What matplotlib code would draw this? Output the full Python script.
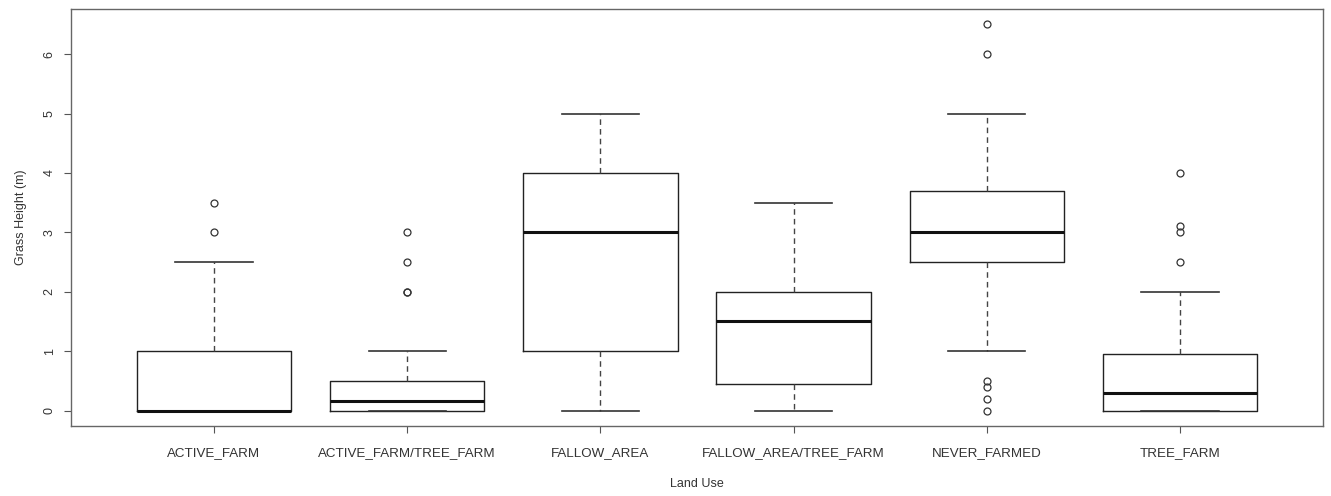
import matplotlib.pyplot as plt

plt.rcParams["font.family"] = ["Liberation Sans", "DejaVu Sans"]

# Land use categories
land_use = [
    "ACTIVE_FARM",
    "ACTIVE_FARM/TREE_FARM",
    "FALLOW_AREA",
    "FALLOW_AREA/TREE_FARM",
    "NEVER_FARMED",
    "TREE_FARM",
]

# Box statistics (metres)
whisker_low = [0.0, 0.0, 0.0, 0.0, 1.0, 0.0]
q1 = [0.0, 0.0, 1.0, 0.45, 2.5, 0.0]
median = [0.0, 0.17, 3.0, 1.5, 3.0, 0.3]
q3 = [1.0, 0.5, 4.0, 2.0, 3.7, 0.95]
whisker_high = [2.5, 1.0, 5.0, 3.5, 5.0, 2.0]
outliers = [
    [3.0, 3.5],
    [2.0, 2.0, 2.5, 3.0],
    [],
    [],
    [0.0, 0.2, 0.4, 0.5, 6.0, 6.5],
    [2.5, 3.0, 3.1, 4.0],
]

stats = []
for i, name in enumerate(land_use):
    stats.append(
        {
            "label": name,
            "whislo": whisker_low[i],
            "q1": q1[i],
            "med": median[i],
            "q3": q3[i],
            "whishi": whisker_high[i],
            "fliers": outliers[i],
        }
    )

fig = plt.figure(figsize=(13.31, 4.96), dpi=100)
ax = fig.add_axes([0.0533, 0.141, 0.9407, 0.841])

ax.bxp(
    stats,
    widths=0.8,
    capwidths=0.4,
    boxprops=dict(color="#222222", linewidth=1.0),
    medianprops=dict(color="#111111", linewidth=2.2),
    whiskerprops=dict(color="#444444", linewidth=1.0, linestyle=(0, (4, 3))),
    capprops=dict(color="#333333", linewidth=1.2),
    flierprops=dict(
        marker="o",
        markerfacecolor="none",
        markeredgecolor="#333333",
        markersize=5,
        markeredgewidth=0.9,
    ),
)

ax.set_xlim(0.26, 6.74)
ax.set_ylim(-0.26, 6.76)
ax.set_yticks(range(0, 7))
ax.set_yticklabels([str(v) for v in range(0, 7)], rotation=90, va="center")
ax.tick_params(axis="both", labelsize=9, color="#555555", labelcolor="#333333",
               length=5, direction="out")
ax.tick_params(axis="x", labelsize=9.6, pad=10)
ax.tick_params(axis="y", pad=6)

for spine in ax.spines.values():
    spine.set_color("#666666")
    spine.set_linewidth(1.0)

ax.set_xlabel("Land Use", fontsize=9, color="#333333", labelpad=14)
ax.set_ylabel("Grass Height (m)", fontsize=9, color="#333333", labelpad=12)

fig.savefig("out.png", dpi=100)
